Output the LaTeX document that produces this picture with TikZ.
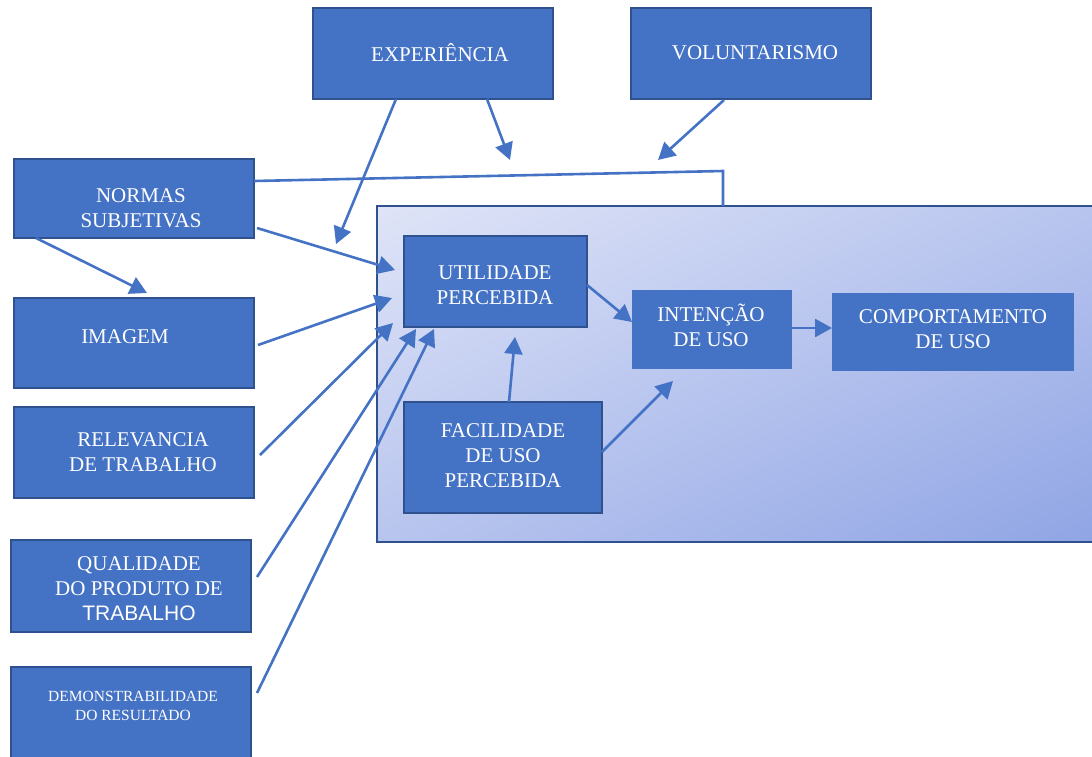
\documentclass[tikz,border=0pt]{standalone}
\usepackage{fontspec}
\setmainfont{Liberation Serif}
\newfontfamily\arialfont{Liberation Sans}
\usetikzlibrary{arrows.meta,calc}

\definecolor{boxblue}{HTML}{4472C4}
\definecolor{edgeblue}{HTML}{2F528F}
\definecolor{panellight}{HTML}{DFE4F7}
\definecolor{paneldark}{HTML}{90A5E5}

\begin{document}
\begin{tikzpicture}[x=1pt,y=-1pt,
  box/.style={draw=edgeblue, line width=2pt, fill=boxblue, inner sep=0pt, outer sep=0pt},
  plainbox/.style={fill=boxblue, inner sep=0pt, outer sep=0pt},
  lbl/.style={text=white, font=\fontsize{21}{25}\selectfont, align=center, inner sep=0pt},
  smalllbl/.style={text=white, font=\fontsize{15.5}{19}\selectfont, align=center, inner sep=0pt},
  link/.style={draw=boxblue, line width=2.6pt},
  arr/.style={link, -{Triangle[length=17pt,width=18pt]}},
]
\useasboundingbox (0,0) rectangle (1092,756);

% model panel: diagonal gradient, clipped to the panel, then its frame
\node[inner sep=0pt, outer sep=0pt, minimum width=733pt, minimum height=336pt]
  (panel) at (743.5,374) {};
\begin{scope}
  \clip (panel.north west) rectangle (panel.south east);
  \shade[left color=panellight, right color=paneldark,
         transform canvas={shift={(734.5,374)}, rotate=-64.8}]
    (-304,-700) rectangle (304,700);
\end{scope}
\draw[edgeblue, line width=2.4pt] (panel.north west) rectangle (panel.south east);

% external factor boxes
\node[box, minimum width=240pt, minimum height=91pt]  (exp)  at (433,53.5)  {};
\node[box, minimum width=240pt, minimum height=91pt]  (vol)  at (751,53.5)  {};
\node[box, minimum width=240pt, minimum height=79pt]  (norm) at (134,198.5) {};
\node[box, minimum width=240pt, minimum height=90pt]  (img)  at (134,343)   {};
\node[box, minimum width=240pt, minimum height=91pt]  (rel)  at (134,452.5) {};
\node[box, minimum width=240pt, minimum height=92pt]  (qual) at (131,586)   {};
\node[box, minimum width=240pt, minimum height=103pt] (demo) at (131,718.5) {};

% core model boxes
\node[box, minimum width=183pt, minimum height=91pt]  (util) at (495.5,281.5) {};
\node[box, minimum width=198pt, minimum height=111pt] (fac)  at (503,457.5)   {};
\node[plainbox, minimum width=160pt, minimum height=79pt] (int)  at (712,329.5) {};
\node[plainbox, minimum width=242pt, minimum height=78pt] (comp) at (953,332)   {};

% labels
\node[lbl] (exp-t)  at (440,53)  {EXPERIÊNCIA};
\node[lbl] (vol-t)  at (755,53)  {VOLUNTARISMO};
\node[lbl] (norm-t) at (141,208) {NORMAS\\SUBJETIVAS};
\node[lbl] (img-t)  at (125,337) {IMAGEM};
\node[lbl] (rel-t)  at (143,452) {RELEVANCIA\\DE TRABALHO};
\node[lbl] (qual-t) at (139,589) {QUALIDADE\\DO PRODUTO DE\\{\arialfont TRABALHO}};
\node[smalllbl] (demo-t) at (133,706) {DEMONSTRABILIDADE\\DO RESULTADO};
\node[lbl] (util-t) at (495,285.5) {UTILIDADE\\PERCEBIDA};
\node[lbl] (int-t)  at (711,325) {INTENÇÃO\\DE USO};
\node[lbl] (comp-t) at (953,329) {COMPORTAMENTO\\DE USO};
\node[lbl] (fac-t)  at (503,456) {FACILIDADE\\DE USO\\PERCEBIDA};

% free arrow ends
\coordinate (expA) at (336,244);
\coordinate (expB) at (510,160);
\coordinate (volA) at (658,160);

% connectors
\draw[link] ($(norm.north east)+(0,22)$) -- ($(panel.north west)+(346,-35)$)
            -- ($(panel.north west)+(346,0)$);
\draw[arr] ($(exp.south west)+(83,0)$) -- (expA);
\draw[arr] ($(exp.south west)+(174,0)$) -- (expB);
\draw[arr] ($(vol.south west)+(93,1)$) -- (volA);
\draw[arr] ($(norm.south east)+(3,-10)$) -- ($(util.west)+(-9,-11.5)$);
\draw[arr] ($(norm.south west)+(22,0)$) -- ($(img.north west)+(133,-5)$);
\draw[arr] ($(img.east)+(4,2)$) -- ($(util.south west)+(-12,-29)$);
\draw[arr] ($(rel.east)+(6,2.5)$) -- ($(util.south west)+(-11,-4)$);
\draw[arr] ($(qual.east)+(6,-9)$) -- ($(util.south west)+(12,2)$);
\draw[arr] ($(demo.north east)+(6,26)$) -- ($(util.south west)+(30,2)$);
\draw[arr] ($(util.east)+(0,3.5)$) -- ($(int.west)+(0,-7.5)$);
\draw[arr] ($(int.east)+(0,-1.5)$) -- ($(comp.west)+(0,-4)$);
\draw[arr] ($(fac.north)+(6,0)$) -- ($(util.south)+(19.5,10)$);
\draw[arr] ($(fac.east)+(0,-5.5)$) -- ($(int.south west)+(41,12)$);
\end{tikzpicture}
\end{document}
